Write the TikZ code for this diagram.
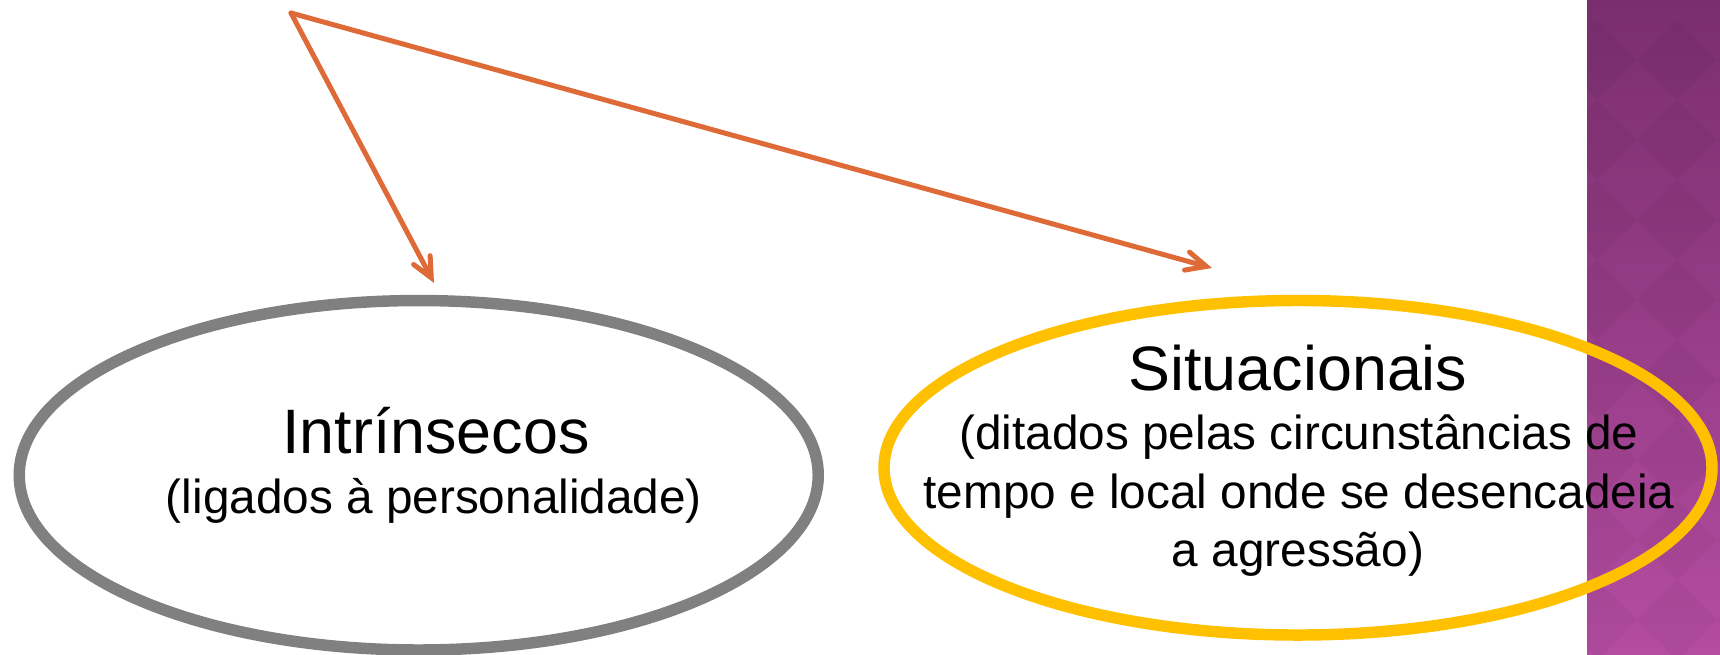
\documentclass[tikz,border=0pt]{standalone}
\usepackage{fontspec}
\setmainfont{Liberation Sans}
\usepackage{tikz}
\usetikzlibrary{arrows.meta,shapes.geometric}

\definecolor{branchorange}{RGB}{222,106,55}
\definecolor{ringgray}{RGB}{128,128,128}
\definecolor{ringgold}{RGB}{255,192,0}
\definecolor{stripdark}{RGB}{122,46,110}
\definecolor{striplight}{RGB}{180,76,161}

\tikzset{
  branch/.style={draw=branchorange, line width=3.75pt, line cap=round, line join=miter,
    -{Straight Barb[length=15pt,width=14pt,line cap=round]}},
  ring/.style={ellipse, line width=8.6pt, inner sep=0pt},
  bigtext/.style={anchor=base, inner sep=0pt, font=\fontsize{47.1pt}{56pt}\selectfont},
  smalltext/.style={anchor=base, inner sep=0pt, font=\fontsize{35.8pt}{43pt}\selectfont}
}

\begin{document}
\begin{tikzpicture}[x=0.75pt,y=0.75pt,yscale=-1,xscale=1]
\useasboundingbox (0,0) rectangle (1720,654);

%Shape: Rectangle [id:strip]
\shade[top color=stripdark, bottom color=striplight] (1587,0) rectangle (1720,654);
\begin{scope}
\clip (1587,0) rectangle (1720,654);
\foreach \i in {0,...,2}
  \foreach \j in {0,...,8}
    \fill[black, opacity=0.035] ({1597+80*\i},{20+80*\j}) -- ++(40,40) -- ++(-40,40) -- ++(-40,-40) -- cycle;
\end{scope}

%Shape: Ellipse [id:intr]
\node[ring, draw=ringgray, minimum width=599.25pt, minimum height=262.1pt] (intr) at (418.75,475.25) {};
%Shape: Ellipse [id:situ]
\node[ring, draw=ringgold, minimum width=621pt, minimum height=250.9pt] (situ) at (1298,467.75) {};

% Text Node
\node[bigtext] (intrtitle) at (436,453) {Intrínsecos};
% Text Node
\node[smalltext] (intrsub) at (434,513) {(ligados à personalidade)};
% Text Node
\node[bigtext] (situtitle) at (1298,390) {Situacionais};
% Text Node
\node[smalltext] (situsuba) at (1299,449) {(ditados pelas circunstâncias de};
% Text Node
\node[smalltext] (situsubb) at (1299,508) {tempo e local onde se desencadeia};
% Text Node
\node[smalltext] (situsubc) at (1298,566) {a agressão)};

%Straight Lines [id:branches]
\coordinate (src) at (291,13);
\coordinate (tipintr) at (434,283);
\coordinate (tipsitu) at (1212,268);
\draw[branch] (src) -- (tipintr);
\draw[branch] (src) -- (tipsitu);

\end{tikzpicture}
\end{document}
